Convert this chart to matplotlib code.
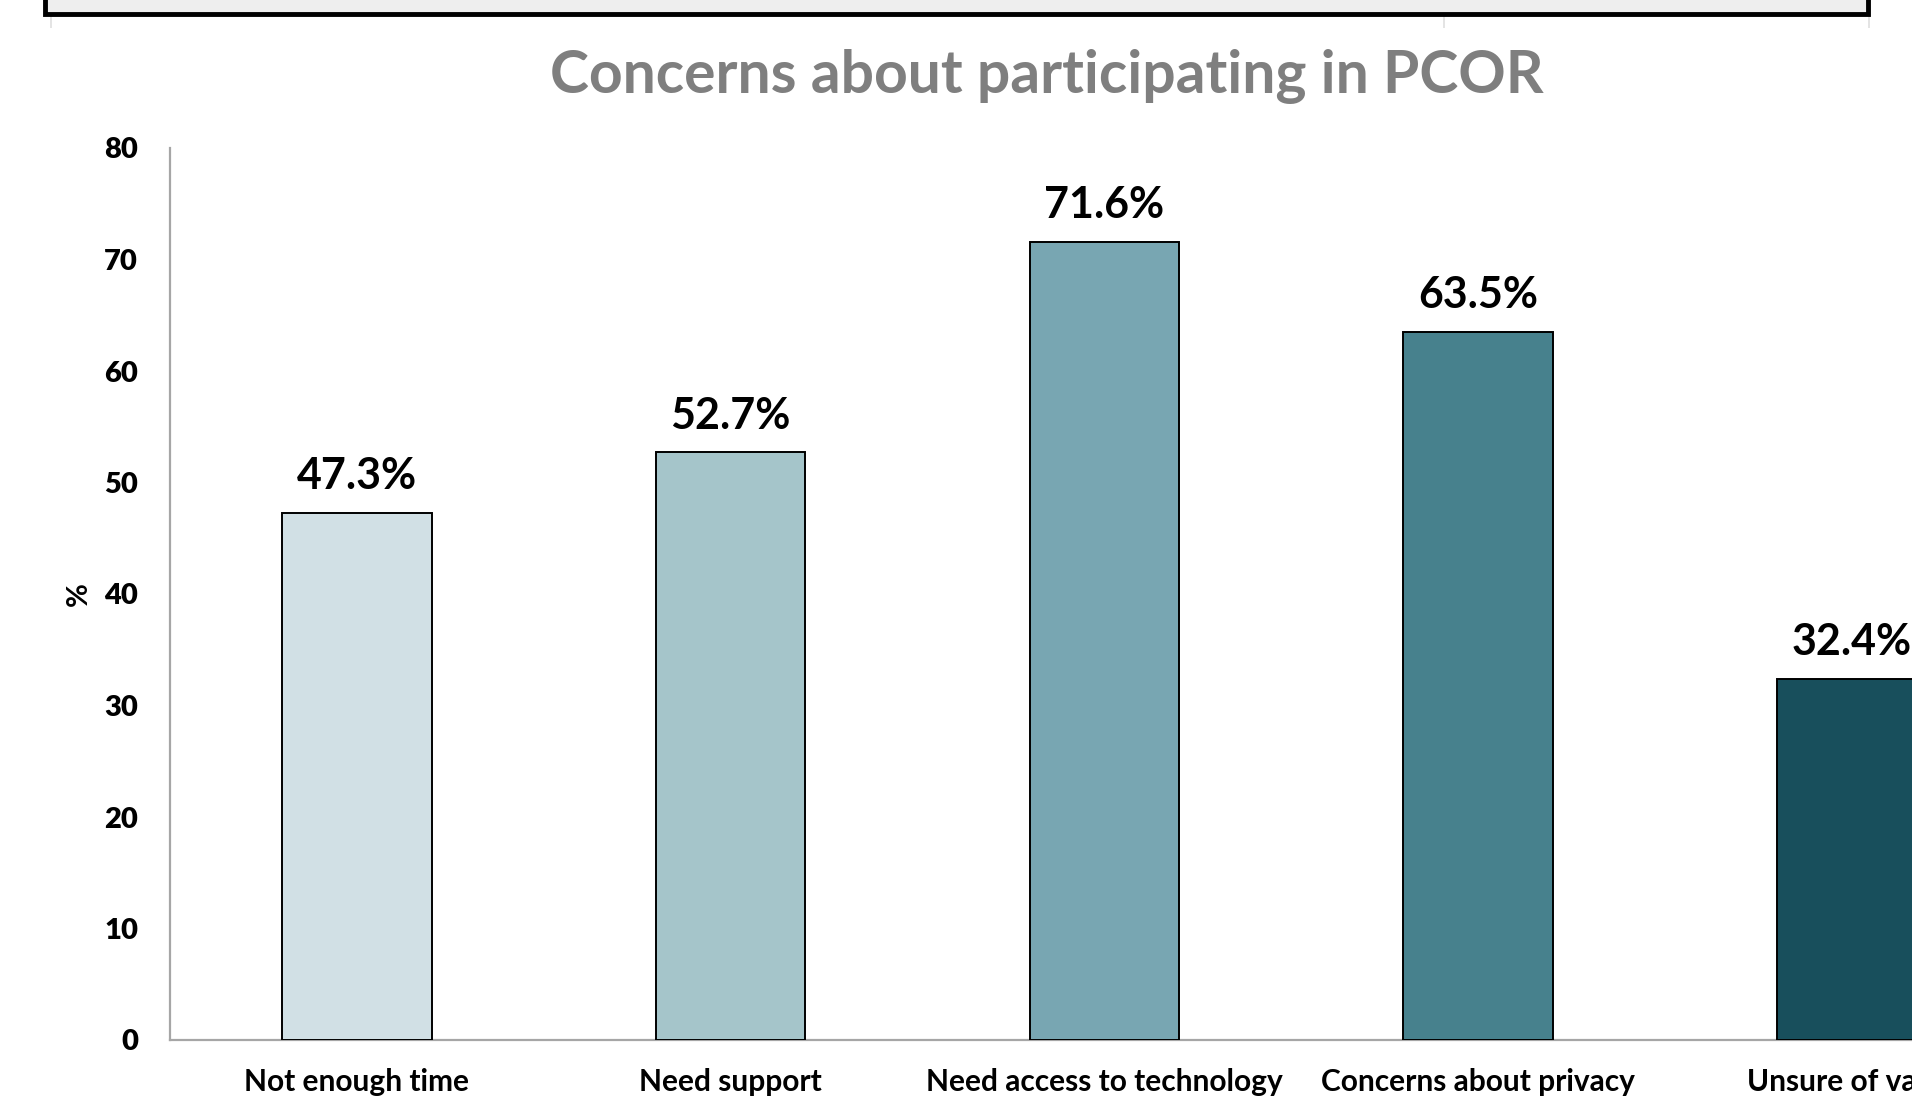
import matplotlib
matplotlib.use("Agg")
import matplotlib.pyplot as plt
from matplotlib.patches import Rectangle

categories = ["Not enough time", "Need support", "Need access to technology",
              "Concerns about privacy", "Unsure of value"]
values = [47.3, 52.7, 71.6, 63.5, 32.4]
value_labels = ["47.3%", "52.7%", "71.6%", "63.5%", "32.4%"]
colors = ["#d1e0e5", "#a5c5ca", "#78a6b2", "#47818d", "#184f5c"]
yticks = [0, 10, 20, 30, 40, 50, 60, 70, 80]
title = "Concerns about participating in PCOR"

plt.rcParams['font.family'] = ['Lato', 'DejaVu Sans']

W, H = 1912, 1097
fig = plt.figure(figsize=(W / 100, H / 100), dpi=100)

# cropped slide frame at top
fig.patches.append(Rectangle((45 / W, (H - 14) / H), (1868 - 45) / W, 40 / H,
                             transform=fig.transFigure, facecolor="#eeeeee",
                             edgecolor="black", linewidth=3.5, zorder=5))
for xp in [50, 1443, 1868]:
    fig.patches.append(Rectangle((xp / W, (H - 28) / H), 2 / W, 12 / H,
                                 transform=fig.transFigure, facecolor="#e4e4e4",
                                 edgecolor="none", zorder=4))

left, right_px = 170, 170 + 5 * 373.7
bottom_px, top_px = 1040, 148
ax = fig.add_axes([left / W, (H - bottom_px) / H, (right_px - left) / W,
                   (bottom_px - top_px) / H])

x = list(range(len(categories)))
bars = ax.bar(x, values, width=0.4, color=colors, edgecolor="black",
              linewidth=1.4, zorder=3)
for xi, v, lab in zip(x, values, value_labels):
    ax.annotate(lab, (xi, v), xytext=(0, 12), textcoords="offset points",
                ha="center", va="bottom", fontsize=31, fontweight="bold",
                color="black")

ax.set_xlim(-0.5, len(categories) - 0.5)
ax.set_ylim(0, 80)
ax.set_yticks(yticks)
ax.set_yticklabels([str(t) for t in yticks], fontsize=21, fontweight="heavy")
ax.set_xticks(x)
ax.set_xticklabels(categories, fontsize=21.5, fontweight="bold")
ax.tick_params(axis="y", length=0, pad=23)
ax.tick_params(axis="x", length=0, pad=20.5)

for s in ["top", "right"]:
    ax.spines[s].set_visible(False)
for s in ["left", "bottom"]:
    ax.spines[s].set_color("#a6a6a6")
    ax.spines[s].set_linewidth(1.6)

ax.set_ylabel("%", fontsize=21, fontweight="bold")
ax.yaxis.set_label_coords(-0.042, 0.5)

fig.text(1047 / W, (H - 77) / H, title, ha="center", va="center",
         fontsize=42.3, fontweight="bold", color="#7f7f7f")

fig.savefig("out.png", dpi=100)
